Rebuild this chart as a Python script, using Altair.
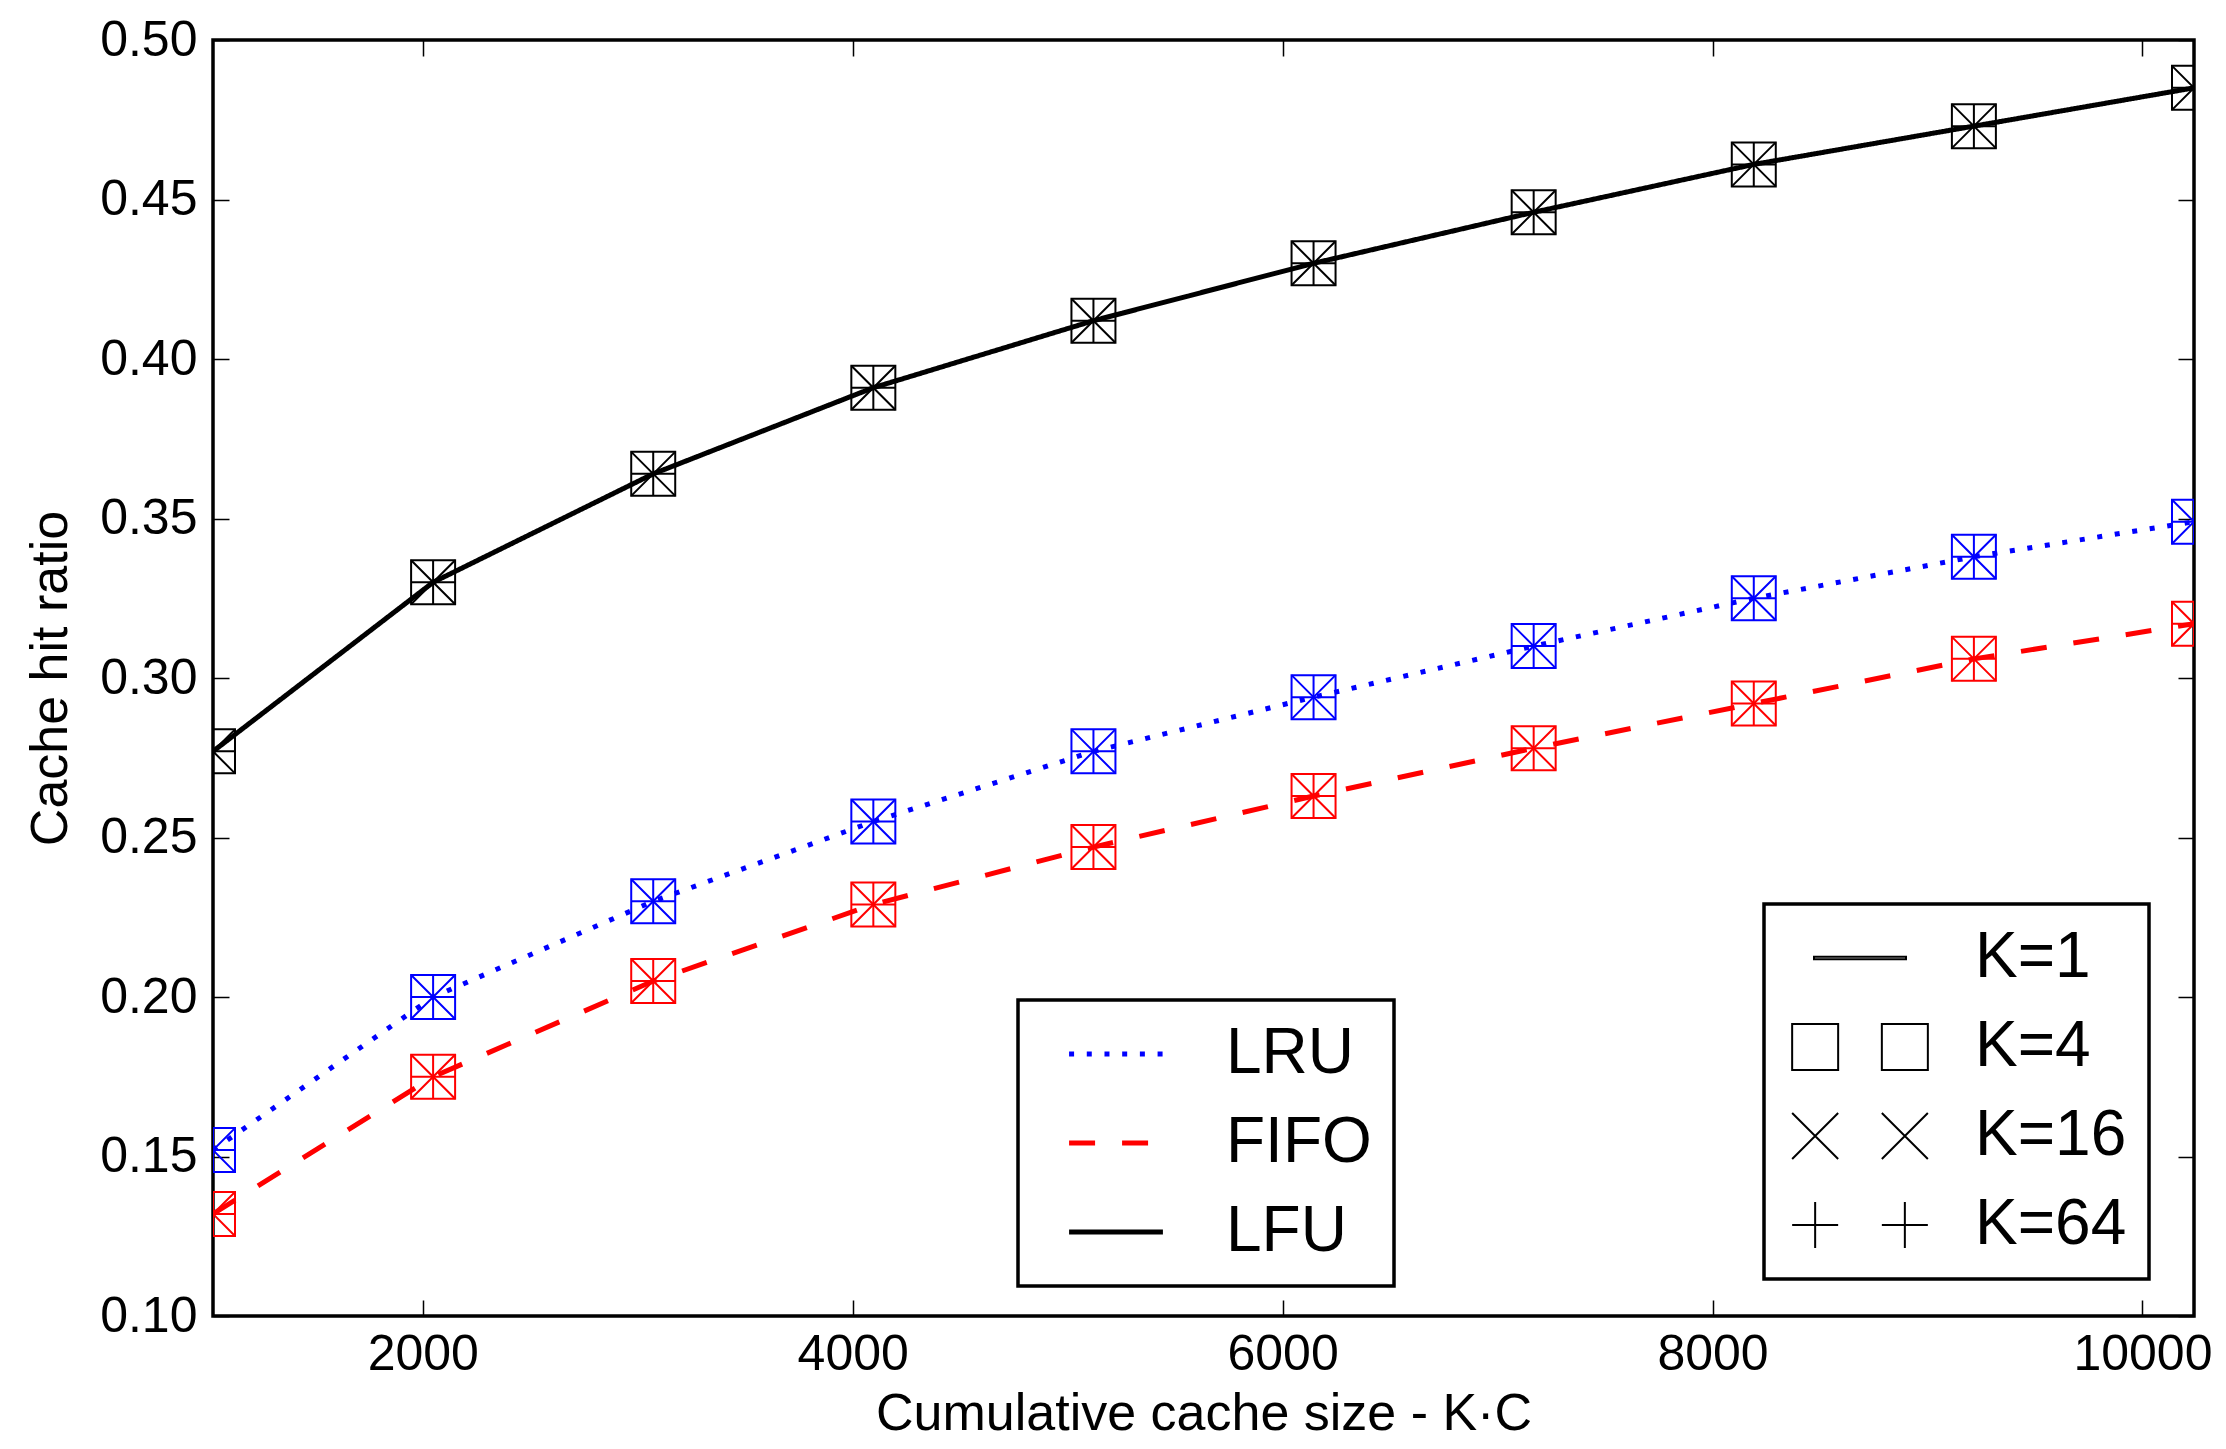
import altair as alt
import pandas as pd

# ---- data ----
cache_sizes = [1024, 2048, 3072, 4096, 5120, 6144, 7168, 8192, 9216, 10240]
lru_hit = [0.152, 0.200, 0.230, 0.255, 0.277, 0.294, 0.310, 0.325, 0.338, 0.349]
fifo_hit = [0.132, 0.175, 0.205, 0.229, 0.247, 0.263, 0.278, 0.292, 0.306, 0.317]
lfu_hit = [0.277, 0.330, 0.364, 0.391, 0.412, 0.430, 0.446, 0.461, 0.473, 0.485]
policies = ["LRU", "FIFO", "LFU"]
policy_colors = ["#0000ff", "#ff0000", "#000000"]
k_labels = ["K=1", "K=4", "K=16", "K=64"]
x_ticks = [2000, 4000, 6000, 8000, 10000]
y_ticks = [0.10, 0.15, 0.20, 0.25, 0.30, 0.35, 0.40, 0.45, 0.50]

rows = []
for name, vals in zip(policies, [lru_hit, fifo_hit, lfu_hit]):
    for xv, yv in zip(cache_sizes, vals):
        rows.append({"policy": name, "cache": xv, "ratio": yv})
df = pd.DataFrame(rows)
kdf = pd.DataFrame({"K": k_labels})

W, H = 1981, 1276
FONT = "Liberation Sans"

xscale = alt.Scale(domain=[1024, 10240], nice=False, zero=False)
yscale = alt.Scale(domain=[0.10, 0.50], nice=False, zero=False)

x_axis = alt.Axis(values=x_ticks, format="d", title="Cumulative cache size - K·C",
                  grid=True, gridDash=[16, H - 32, 16], labelPadding=13, titlePadding=9,
                  labelFlush=False, labelOverlap=False)
y_axis = alt.Axis(values=y_ticks, format=".2f", title="Cache hit ratio",
                  grid=True, gridDash=[16, W - 32, 16], labelPadding=16, titlePadding=22,
                  labelFlush=False, labelOverlap=False)

X = alt.X("cache:Q", scale=xscale, axis=x_axis)
Y = alt.Y("ratio:Q", scale=yscale, axis=y_axis)

# legend-bearing scales (lines)
color_scale = alt.Scale(domain=policies, range=policy_colors)
dash_scale = alt.Scale(domain=policies, range=[[5, 12.7], [26, 27], [1, 0]])
# marker stroke scale: same mapping, listed in another order so that it stays a separate, legend-less scale
marker_order = [2, 0, 1]
marker_scale = alt.Scale(domain=[policies[i] for i in marker_order],
                         range=[policy_colors[i] for i in marker_order])

policy_legend = alt.Legend(orient="none", legendX=805, legendY=960, title=None,
                           symbolType="M-2.04,0H2.04", symbolSize=2116,
                           symbolStrokeWidth=5, symbolOffset=44, labelOffset=78)

lines = alt.Chart(df).mark_line(strokeWidth=5, clip=True).encode(
    x=X, y=Y,
    color=alt.Color("policy:N", scale=color_scale, legend=policy_legend),
    strokeDash=alt.StrokeDash("policy:N", scale=dash_scale, legend=policy_legend),
)

marker_shapes = ["square", "M-1,-1L1,1M-1,1L1,-1", "M-1,0H1M0,-1V1"]
marker_layers = []
for shp in marker_shapes:
    marker_layers.append(
        alt.Chart(df).mark_point(shape=shp, size=1936, filled=False, strokeWidth=2,
                                 opacity=1, clip=True).encode(
            x=X, y=Y,
            stroke=alt.Stroke("policy:N", scale=marker_scale, legend=None),
        )
    )

k_paths = [
    "M-2,-0.05H2V0.05H-2Z",
    "M-2.95,-1H-0.95V1H-2.95Z M0.95,-1H2.95V1H0.95Z",
    "M-2.95,-1L-0.95,1M-2.95,1L-0.95,-1 M0.95,-1L2.95,1M0.95,1L2.95,-1",
    "M-2.95,0H-0.95M-1.95,-1V1 M0.95,0H2.95M1.95,-1V1",
]
k_legend = alt.Legend(orient="none", legendX=1551, legendY=864, title=None,
                      symbolSize=2116, symbolStrokeWidth=2, symbolStrokeColor="black",
                      symbolOpacity=1, symbolOffset=42, labelOffset=83)
k_layer = alt.Chart(kdf).mark_point(filled=False, color="black", strokeWidth=2,
                                    opacity=0).encode(
    shape=alt.Shape("K:N", scale=alt.Scale(domain=k_labels, range=k_paths), legend=k_legend)
)

chart = alt.layer(*marker_layers, lines, k_layer).properties(
    width=W, height=H,
    background="white",
    autosize=alt.AutoSizeParams(type="none"),
    padding={"left": 205, "top": 32, "right": 24, "bottom": 125},
).configure_view(
    stroke="black", strokeWidth=3.5, fill="white"
).configure_axis(
    labelFont=FONT, labelFontSize=50, labelColor="black",
    titleFont=FONT, titleFontSize=52, titleFontWeight="normal", titleColor="black",
    domain=False, ticks=False, tickSize=0,
    gridColor="black", gridWidth=1.5, gridOpacity=1,
).configure_legend(
    labelFont=FONT, labelFontSize=64, labelColor="black", labelLimit=600,
    strokeColor="black", strokeWidth=3.5, fillColor="white",
    padding=22, rowPadding=25,
)

chart.save("out.html", embed_options={"renderer": "svg", "actions": False})
